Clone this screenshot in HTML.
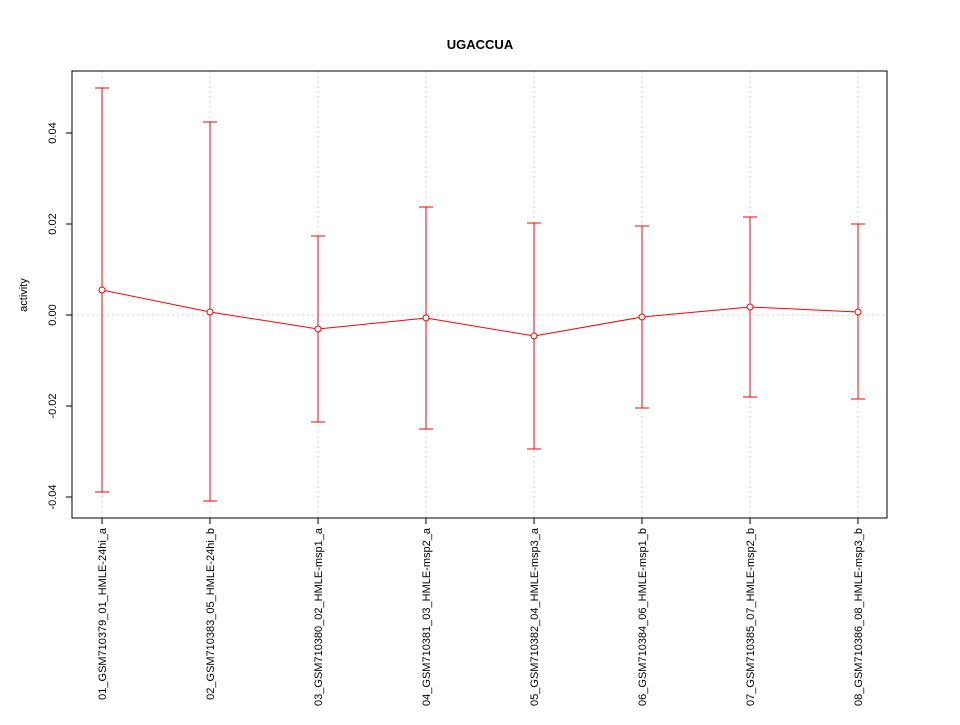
<!DOCTYPE html>
<html><head><meta charset="utf-8"><style>body{margin:0;background:#fff}</style></head><body>
<svg width="960" height="720" xmlns="http://www.w3.org/2000/svg" font-family="Liberation Sans, sans-serif">
<rect width="960" height="720" fill="#fff"/>
<text x="480" y="49" text-anchor="middle" font-size="13" font-weight="bold">UGACCUA</text>
<g stroke="#d3d3d3" stroke-dasharray="2,3" stroke-width="1">
<line x1="102" y1="71" x2="102" y2="518"/><line x1="210" y1="71" x2="210" y2="518"/>
<line x1="318" y1="71" x2="318" y2="518"/><line x1="426" y1="71" x2="426" y2="518"/>
<line x1="534" y1="71" x2="534" y2="518"/><line x1="642" y1="71" x2="642" y2="518"/>
<line x1="750" y1="71" x2="750" y2="518"/><line x1="858" y1="71" x2="858" y2="518"/>
<line x1="72" y1="315" x2="887" y2="315"/>
</g>
<rect x="72" y="71" width="815" height="447" fill="none" stroke="#000"/>
<g stroke="#000">
<line x1="66" y1="133" x2="72" y2="133"/><line x1="66" y1="224" x2="72" y2="224"/>
<line x1="66" y1="315" x2="72" y2="315"/><line x1="66" y1="406" x2="72" y2="406"/>
<line x1="66" y1="497" x2="72" y2="497"/>
<line x1="102" y1="518" x2="102" y2="524"/><line x1="210" y1="518" x2="210" y2="524"/>
<line x1="318" y1="518" x2="318" y2="524"/><line x1="426" y1="518" x2="426" y2="524"/>
<line x1="534" y1="518" x2="534" y2="524"/><line x1="642" y1="518" x2="642" y2="524"/>
<line x1="750" y1="518" x2="750" y2="524"/><line x1="858" y1="518" x2="858" y2="524"/>
</g>
<g font-size="11" text-anchor="middle">
<text transform="translate(56,133) rotate(-90)">0.04</text>
<text transform="translate(56,224) rotate(-90)">0.02</text>
<text transform="translate(56,315) rotate(-90)">0.00</text>
<text transform="translate(56,406) rotate(-90)">-0.02</text>
<text transform="translate(56,497) rotate(-90)">-0.04</text>
<text transform="translate(27,295) rotate(-90)">activity</text>
</g>
<g font-size="11" text-anchor="end">
<text transform="translate(106,528) rotate(-90)">01_GSM710379_01_HMLE-24hi_a</text>
<text transform="translate(214,528) rotate(-90)">02_GSM710383_05_HMLE-24hi_b</text>
<text transform="translate(322,528) rotate(-90)">03_GSM710380_02_HMLE-msp1_a</text>
<text transform="translate(430,528) rotate(-90)">04_GSM710381_03_HMLE-msp2_a</text>
<text transform="translate(538,528) rotate(-90)">05_GSM710382_04_HMLE-msp3_a</text>
<text transform="translate(646,528) rotate(-90)">06_GSM710384_06_HMLE-msp1_b</text>
<text transform="translate(754,528) rotate(-90)">07_GSM710385_07_HMLE-msp2_b</text>
<text transform="translate(862,528) rotate(-90)">08_GSM710386_08_HMLE-msp3_b</text>
</g>
<g stroke="#ff0000" fill="none" stroke-width="1">
<path d="M102 88V492M95 88H109M95 492H109"/>
<path d="M210 122V501M203 122H217M203 501H217"/>
<path d="M318 236V422M311 236H325M311 422H325"/>
<path d="M426 207V429M419 207H433M419 429H433"/>
<path d="M534 223V449M527 223H541M527 449H541"/>
<path d="M642 226V408M635 226H649M635 408H649"/>
<path d="M750 217V397M743 217H757M743 397H757"/>
<path d="M858 224V399M851 224H865M851 399H865"/>
<polyline points="102,290 210,312 318,329 426,318 534,336 642,317 750,307 858,312"/>
<circle cx="102" cy="290" r="3" fill="#fff"/><circle cx="210" cy="312" r="3" fill="#fff"/>
<circle cx="318" cy="329" r="3" fill="#fff"/><circle cx="426" cy="318" r="3" fill="#fff"/>
<circle cx="534" cy="336" r="3" fill="#fff"/><circle cx="642" cy="317" r="3" fill="#fff"/>
<circle cx="750" cy="307" r="3" fill="#fff"/><circle cx="858" cy="312" r="3" fill="#fff"/>
</g>
</svg>
</body></html>
